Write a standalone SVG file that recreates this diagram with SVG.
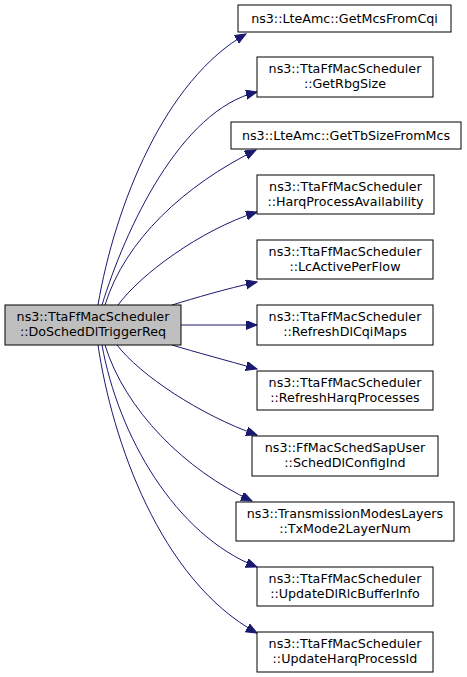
<svg xmlns="http://www.w3.org/2000/svg" width="467" height="677" viewBox="0 0 467 677">
<defs>
<marker id="arr" markerUnits="userSpaceOnUse" markerWidth="12" markerHeight="10" refX="11" refY="4.5" orient="auto">
<path d="M0,0 L11,4.5 L0,9 Z" fill="#191970" stroke="#191970" stroke-width="1"/>
</marker>
</defs>
<style>
.n rect{fill:#fff;stroke:#000;stroke-width:1}
.n.main rect{fill:#bfbfbf}
text{font-family:"DejaVu Sans",sans-serif;font-size:12.7px;fill:#000;text-anchor:middle}
.e path{fill:none;stroke:#191970;stroke-width:1;marker-end:url(#arr)}
</style>
<rect width="467" height="677" fill="#fff"/>
<g class="e" id="edges">
<path d="M98,305 C115,205 165,80 246,34"/>
<path d="M102,305 C125,230 180,110 257,92"/>
<path d="M105,305 C125,240 185,185 256,150"/>
<path d="M118,305 C140,275 200,230 257,212"/>
<path d="M172,305 C195,298 225,289 257,282"/>
<path d="M181,325 L257,325"/>
<path d="M172,345 C195,352 225,360 257,369"/>
<path d="M117,345 C140,375 200,415 257,435"/>
<path d="M105,345 C125,410 185,470 252,501"/>
<path d="M102,345 C118,435 175,535 257,567"/>
<path d="M98,345 C112,440 160,580 257,633"/>
</g>
<g class="n main" id="main"><rect x="5" y="305" width="176" height="40"/><text x="93" y="321">ns3::TtaFfMacScheduler</text><text x="93" y="336">::DoSchedDlTriggerReq</text></g>
<g class="n" id="n1"><rect x="238" y="5" width="213" height="27"/><text x="344.5" y="23">ns3::LteAmc::GetMcsFromCqi</text></g>
<g class="n" id="n2"><rect x="257" y="57" width="176" height="40"/><text x="345" y="73">ns3::TtaFfMacScheduler</text><text x="345" y="88">::GetRbgSize</text></g>
<g class="n" id="n3"><rect x="231" y="122" width="230" height="27"/><text x="346" y="140">ns3::LteAmc::GetTbSizeFromMcs</text></g>
<g class="n" id="n4"><rect x="257" y="175" width="177" height="39"/><text x="345.5" y="191">ns3::TtaFfMacScheduler</text><text x="345.5" y="206">::HarqProcessAvailability</text></g>
<g class="n" id="n5"><rect x="257" y="240" width="176" height="39"/><text x="345" y="256">ns3::TtaFfMacScheduler</text><text x="345" y="271">::LcActivePerFlow</text></g>
<g class="n" id="n6"><rect x="257" y="305" width="176" height="40"/><text x="345" y="321">ns3::TtaFfMacScheduler</text><text x="345" y="336">::RefreshDlCqiMaps</text></g>
<g class="n" id="n7"><rect x="257" y="371" width="176" height="39"/><text x="345" y="387">ns3::TtaFfMacScheduler</text><text x="345" y="402">::RefreshHarqProcesses</text></g>
<g class="n" id="n8"><rect x="252" y="436" width="186" height="40"/><text x="345" y="452">ns3::FfMacSchedSapUser</text><text x="345" y="467">::SchedDlConfigInd</text></g>
<g class="n" id="n9"><rect x="236" y="502" width="218" height="39"/><text x="345" y="518">ns3::TransmissionModesLayers</text><text x="345" y="533">::TxMode2LayerNum</text></g>
<g class="n" id="n10"><rect x="257" y="567" width="176" height="39"/><text x="345" y="583">ns3::TtaFfMacScheduler</text><text x="345" y="598">::UpdateDlRlcBufferInfo</text></g>
<g class="n" id="n11"><rect x="257" y="632" width="176" height="40"/><text x="345" y="648">ns3::TtaFfMacScheduler</text><text x="345" y="663">::UpdateHarqProcessId</text></g>
</svg>
